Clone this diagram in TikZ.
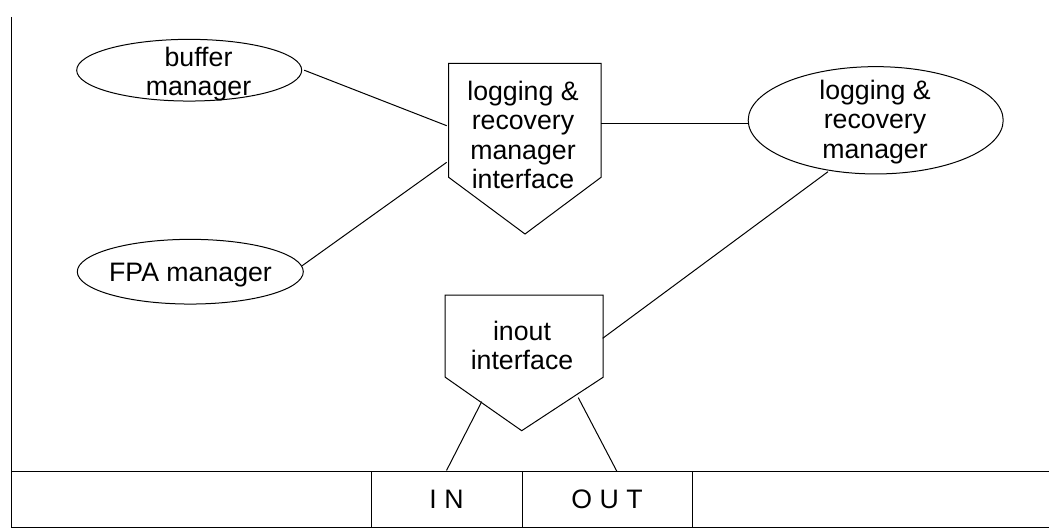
\documentclass[tikz,border=0pt]{standalone}
\usepackage{fontspec}
\setmainfont{Liberation Sans}
\usetikzlibrary{shapes.geometric}
\begin{document}
\begin{tikzpicture}[x=1pt,y=-1pt,
  line width=1pt,
  label/.style={font=\fontsize{26.7}{29.5}\selectfont, align=center, inner sep=0pt},
  oval/.style={ellipse, draw, inner sep=0pt},
  body/.style={rectangle, inner sep=0pt},
  cell/.style={rectangle, draw, inner sep=0pt, minimum height=56.5pt,
               font=\fontsize{26.7}{29.5}\selectfont},
  link/.style={draw}
]
\useasboundingbox (0,0) rectangle (1049,529);

% left margin rule and bottom band
\draw (11,17) -- (11,527.5);
\draw (11,471) -- (1049,471);
\draw (11,527.5) -- (1049,527.5);
\node[cell, minimum width=151pt] (inCell) at (446.5,499.25) {I N};
\node[cell, minimum width=170pt] (outCell) at (607,499.25) {O U T};

% managers
\node[oval, minimum width=225pt, minimum height=61.7pt] (buf) at (189.2,70.2) {};
\node[label] (bufText) at (198.5,74.2) {buffer\\manager};
\node[oval, minimum width=226pt, minimum height=64.7pt] (fpa) at (190.3,271.7) {};
\node[label] (fpaText) at (190.5,275.0) {FPA manager};
\node[oval, minimum width=255pt, minimum height=107.3pt] (rr) at (875.7,120.3) {};
\node[label] (rrText) at (875,121.9) {logging \&\\recovery\\manager};

% interface pentagons
\node[body, minimum width=151.7pt, minimum height=112.7pt] (lrmi) at (524.85,120.35) {};
\coordinate (lrmiTip) at (525,234);
\draw (lrmi.north west) -- (lrmi.north east) -- (lrmi.south east)
      -- (lrmiTip) -- (lrmi.south west) -- cycle;
\node[label] (lrmiText) at (523,134.75) {logging \&\\recovery\\manager\\interface};

\node[body, minimum width=157pt, minimum height=81pt] (inout) at (524.2,336.2) {};
\coordinate (inoutTip) at (521.7,430.7);
\draw (inout.north west) -- (inout.north east) -- (inout.south east)
      -- (inoutTip) -- (inout.south west) -- cycle;
\node[label] (inoutText) at (522,345.4) {inout\\interface};

% connection points on the pentagons
\coordinate (lrmiBufIn) at (446.7,125.7);
\coordinate (lrmiFpaIn) at (446.7,162.3);
\coordinate (lrmiOut) at (600.7,123.3);
\coordinate (rrIn) at (748.4,123.3);
\coordinate (rrOut) at (828,171.7);
\coordinate (inoutIn) at (602.7,338.3);
\coordinate (inoutL) at (481.7,401.7);
\coordinate (inoutR) at (578.3,397.7);
\coordinate (outTop) at (616.7,471);

% connectors
\path[link] ([xshift=2pt]buf.east) -- (lrmiBufIn);
\path[link] (fpa.3) -- (lrmiFpaIn);
\path[link] (lrmiOut) -- (rrIn);
\path[link] (rrOut) -- (inoutIn);
\path[link] (inoutL) -- (inCell.north);
\path[link] (inoutR) -- (outTop);
\end{tikzpicture}
\end{document}
